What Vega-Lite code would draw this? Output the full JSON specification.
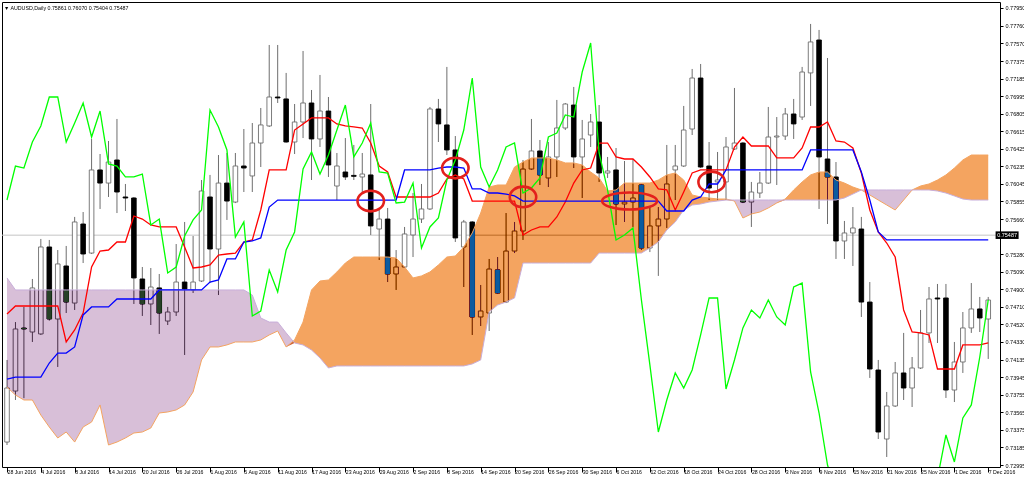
{
"$schema":"https://vega.github.io/schema/vega-lite/v6.json",
"width":998,"height":465,
"autosize":{"type":"none"},
"padding":{"left":2,"top":2,"right":24,"bottom":12},
"background":"#ffffff",
"title":{"text":"▼ AUDUSD,Daily  0.75861 0.76070 0.75404 0.75487","anchor":"start","frame":"group","offset":-9,"dx":2,"fontSize":5.3,"font":"Liberation Sans","fontWeight":"normal","color":"#000000"},
"config":{"view":{"stroke":"#000000","strokeWidth":1},"axis":{"labelFont":"Liberation Sans","labelFontSize":5.5,"labelColor":"#000000","tickColor":"#000000","grid":false,"domain":false,"title":null}},
"datasets":{
"last":[{"price":0.75487}],
"notes":[{"i":43,"v":0.75857},{"i":53,"v":0.76215},{"i":61,"v":0.75901},{"i":83.3,"v":0.76064}],
"wideNote":[{"i":73.6,"v":0.75857}],
"bars":[
{"i":0,"d":"2016-06-28","o":0.73244,"h":0.74134,"l":0.73212,"c":0.73830,"t":0.74633,"k":0.73927,"ch":0.75868,"A":0.73841,"B":0.75023},
{"i":1,"d":"2016-06-29","o":0.73797,"h":0.74545,"l":0.73700,"c":0.74470,"t":0.74719,"k":0.73949,"ch":0.76237,"A":0.73754,"B":0.74893},
{"i":2,"d":"2016-06-30","o":0.74480,"h":0.74709,"l":0.73720,"c":0.74470,"t":0.74719,"k":0.73949,"ch":0.76215,"A":0.73700,"B":0.74893},
{"i":3,"d":"2016-07-01","o":0.74437,"h":0.75012,"l":0.74329,"c":0.74915,"t":0.74719,"k":0.73949,"ch":0.76497,"A":0.73700,"B":0.74893},
{"i":4,"d":"2016-07-04","o":0.74416,"h":0.75446,"l":0.74405,"c":0.75359,"t":0.74719,"k":0.73949,"ch":0.76671,"A":0.73537,"B":0.74893},
{"i":5,"d":"2016-07-05","o":0.75359,"h":0.75435,"l":0.74560,"c":0.74578,"t":0.74719,"k":0.74101,"ch":0.76985,"A":0.73407,"B":0.74893},
{"i":6,"d":"2016-07-06","o":0.74578,"h":0.75326,"l":0.74058,"c":0.75175,"t":0.74719,"k":0.74209,"ch":0.76985,"A":0.73288,"B":0.74893},
{"i":7,"d":"2016-07-07","o":0.75153,"h":0.75370,"l":0.74643,"c":0.74762,"t":0.74329,"k":0.74209,"ch":0.76497,"A":0.73353,"B":0.74893},
{"i":8,"d":"2016-07-08","o":0.74751,"h":0.75685,"l":0.74676,"c":0.75630,"t":0.74459,"k":0.74275,"ch":0.76703,"A":0.73244,"B":0.74893},
{"i":9,"d":"2016-07-11","o":0.75608,"h":0.75738,"l":0.75185,"c":0.75283,"t":0.74643,"k":0.74622,"ch":0.76920,"A":0.73407,"B":0.74893},
{"i":10,"d":"2016-07-12","o":0.75293,"h":0.76530,"l":0.75283,"c":0.76194,"t":0.75142,"k":0.74709,"ch":0.76551,"A":0.73461,"B":0.74893},
{"i":11,"d":"2016-07-13","o":0.76194,"h":0.76367,"l":0.75771,"c":0.76052,"t":0.75315,"k":0.74709,"ch":0.76833,"A":0.73646,"B":0.74893},
{"i":12,"d":"2016-07-14","o":0.76052,"h":0.76508,"l":0.75901,"c":0.76280,"t":0.75326,"k":0.74709,"ch":0.76259,"A":0.73212,"B":0.74893},
{"i":13,"d":"2016-07-15","o":0.76302,"h":0.76747,"l":0.75727,"c":0.75955,"t":0.75413,"k":0.74795,"ch":0.76237,"A":0.73244,"B":0.74893},
{"i":14,"d":"2016-07-18","o":0.75901,"h":0.76042,"l":0.75749,"c":0.75890,"t":0.75413,"k":0.74795,"ch":0.76118,"A":0.73288,"B":0.74893},
{"i":15,"d":"2016-07-19","o":0.75890,"h":0.75900,"l":0.74741,"c":0.75023,"t":0.75695,"k":0.74795,"ch":0.76118,"A":0.73342,"B":0.74893},
{"i":16,"d":"2016-07-20","o":0.75012,"h":0.75142,"l":0.74611,"c":0.74741,"t":0.75662,"k":0.74795,"ch":0.76150,"A":0.73353,"B":0.74893},
{"i":17,"d":"2016-07-21","o":0.74741,"h":0.75131,"l":0.74513,"c":0.74925,"t":0.75598,"k":0.74795,"ch":0.75598,"A":0.73396,"B":0.74893},
{"i":18,"d":"2016-07-22","o":0.74915,"h":0.75066,"l":0.74416,"c":0.74643,"t":0.75576,"k":0.74893,"ch":0.75662,"A":0.73559,"B":0.74893},
{"i":19,"d":"2016-07-25","o":0.74556,"h":0.74709,"l":0.74513,"c":0.74654,"t":0.75576,"k":0.74893,"ch":0.75077,"A":0.73570,"B":0.74893},
{"i":20,"d":"2016-07-26","o":0.74654,"h":0.75391,"l":0.74611,"c":0.74979,"t":0.75576,"k":0.74893,"ch":0.75142,"A":0.73592,"B":0.74893},
{"i":21,"d":"2016-07-27","o":0.74979,"h":0.75630,"l":0.74188,"c":0.74904,"t":0.75359,"k":0.74893,"ch":0.75478,"A":0.73646,"B":0.74893},
{"i":22,"d":"2016-07-28","o":0.74893,"h":0.75478,"l":0.74860,"c":0.74979,"t":0.75131,"k":0.74893,"ch":0.75652,"A":0.73787,"B":0.74893},
{"i":23,"d":"2016-07-29","o":0.74990,"h":0.76085,"l":0.74979,"c":0.75966,"t":0.75142,"k":0.74893,"ch":0.75760,"A":0.74134,"B":0.74893},
{"i":24,"d":"2016-08-01","o":0.75901,"h":0.76140,"l":0.74968,"c":0.75337,"t":0.75164,"k":0.74979,"ch":0.76844,"A":0.74275,"B":0.74893},
{"i":25,"d":"2016-08-02","o":0.75337,"h":0.76356,"l":0.74838,"c":0.76052,"t":0.75272,"k":0.75001,"ch":0.76660,"A":0.74275,"B":0.74893},
{"i":26,"d":"2016-08-03","o":0.76052,"h":0.76378,"l":0.75652,"c":0.75857,"t":0.75283,"k":0.75229,"ch":0.76411,"A":0.74297,"B":0.74893},
{"i":27,"d":"2016-08-04","o":0.75846,"h":0.76378,"l":0.75835,"c":0.76237,"t":0.75293,"k":0.75229,"ch":0.75467,"A":0.74329,"B":0.74893},
{"i":28,"d":"2016-08-05","o":0.76237,"h":0.76638,"l":0.75955,"c":0.76215,"t":0.75413,"k":0.75413,"ch":0.75630,"A":0.74329,"B":0.74893},
{"i":29,"d":"2016-08-08","o":0.76129,"h":0.76703,"l":0.75955,"c":0.76486,"t":0.75435,"k":0.75424,"ch":0.74611,"A":0.74329,"B":0.74838},
{"i":30,"d":"2016-08-09","o":0.76486,"h":0.76866,"l":0.76226,"c":0.76682,"t":0.75760,"k":0.75457,"ch":0.74665,"A":0.74351,"B":0.74589},
{"i":31,"d":"2016-08-10","o":0.76671,"h":0.77549,"l":0.76660,"c":0.76985,"t":0.76194,"k":0.75792,"ch":0.75110,"A":0.74405,"B":0.74545},
{"i":32,"d":"2016-08-11","o":0.76985,"h":0.77549,"l":0.76920,"c":0.76975,"t":0.76194,"k":0.75868,"ch":0.74871,"A":0.74448,"B":0.74545},
{"i":33,"d":"2016-08-12","o":0.76964,"h":0.77246,"l":0.76490,"c":0.76497,"t":0.76194,"k":0.75868,"ch":0.75326,"A":0.74275,"B":0.74427},
{"i":34,"d":"2016-08-15","o":0.76497,"h":0.76909,"l":0.76367,"c":0.76714,"t":0.76627,"k":0.75868,"ch":0.75522,"A":0.74351,"B":0.74318},
{"i":35,"d":"2016-08-16","o":0.76714,"h":0.77484,"l":0.76540,"c":0.76920,"t":0.76693,"k":0.75868,"ch":0.76204,"A":0.74545,"B":0.74297},
{"i":36,"d":"2016-08-17","o":0.76920,"h":0.77061,"l":0.76085,"c":0.76530,"t":0.76758,"k":0.75868,"ch":0.76389,"A":0.74893,"B":0.74242},
{"i":37,"d":"2016-08-18","o":0.76530,"h":0.77224,"l":0.76443,"c":0.76833,"t":0.76758,"k":0.75868,"ch":0.76150,"A":0.74990,"B":0.74156},
{"i":38,"d":"2016-08-19","o":0.76833,"h":0.76985,"l":0.76118,"c":0.76248,"t":0.76758,"k":0.75868,"ch":0.76356,"A":0.75001,"B":0.74047},
{"i":39,"d":"2016-08-22","o":0.76020,"h":0.76378,"l":0.75868,"c":0.76237,"t":0.76693,"k":0.75868,"ch":0.76627,"A":0.75088,"B":0.74069},
{"i":40,"d":"2016-08-23","o":0.76172,"h":0.76540,"l":0.76085,"c":0.76118,"t":0.76671,"k":0.75868,"ch":0.76898,"A":0.75185,"B":0.74069},
{"i":41,"d":"2016-08-24","o":0.76135,"h":0.76465,"l":0.76085,"c":0.76125,"t":0.76660,"k":0.75868,"ch":0.76335,"A":0.75250,"B":0.74069},
{"i":42,"d":"2016-08-25","o":0.76118,"h":0.76378,"l":0.75944,"c":0.76150,"t":0.76649,"k":0.75868,"ch":0.76486,"A":0.75250,"B":0.74069},
{"i":43,"d":"2016-08-26","o":0.76140,"h":0.76909,"l":0.75489,"c":0.75587,"t":0.76486,"k":0.75868,"ch":0.76703,"A":0.75250,"B":0.74069},
{"i":44,"d":"2016-08-29","o":0.75554,"h":0.75760,"l":0.75218,"c":0.75662,"t":0.76237,"k":0.75868,"ch":0.76172,"A":0.75250,"B":0.74069},
{"i":45,"d":"2016-08-30","o":0.75662,"h":0.75782,"l":0.74979,"c":0.75066,"t":0.76172,"k":0.75868,"ch":0.76161,"A":0.75250,"B":0.74069},
{"i":46,"d":"2016-08-31","o":0.75066,"h":0.75326,"l":0.74893,"c":0.75142,"t":0.75901,"k":0.75868,"ch":0.75836,"A":0.75239,"B":0.74069},
{"i":47,"d":"2016-09-01","o":0.75142,"h":0.75576,"l":0.75131,"c":0.75500,"t":0.75901,"k":0.76194,"ch":0.75846,"A":0.75142,"B":0.74069},
{"i":48,"d":"2016-09-02","o":0.75489,"h":0.75944,"l":0.75250,"c":0.75662,"t":0.75901,"k":0.76194,"ch":0.76052,"A":0.75023,"B":0.74069},
{"i":49,"d":"2016-09-05","o":0.75662,"h":0.76042,"l":0.75619,"c":0.75771,"t":0.75901,"k":0.76194,"ch":0.75348,"A":0.75045,"B":0.74069},
{"i":50,"d":"2016-09-06","o":0.75771,"h":0.76877,"l":0.75760,"c":0.76855,"t":0.75901,"k":0.76194,"ch":0.75576,"A":0.75088,"B":0.74069},
{"i":51,"d":"2016-09-07","o":0.76855,"h":0.76964,"l":0.76497,"c":0.76693,"t":0.75944,"k":0.76215,"ch":0.75673,"A":0.75164,"B":0.74069},
{"i":52,"d":"2016-09-08","o":0.76682,"h":0.77311,"l":0.76356,"c":0.76411,"t":0.76096,"k":0.76226,"ch":0.76085,"A":0.75250,"B":0.74069},
{"i":53,"d":"2016-09-09","o":0.76411,"h":0.76562,"l":0.75413,"c":0.75457,"t":0.76140,"k":0.76226,"ch":0.76302,"A":0.75261,"B":0.74069},
{"i":54,"d":"2016-09-12","o":0.75359,"h":0.75652,"l":0.74925,"c":0.75630,"t":0.76096,"k":0.76215,"ch":0.76627,"A":0.75359,"B":0.74069},
{"i":55,"d":"2016-09-13","o":0.75630,"h":0.75640,"l":0.74405,"c":0.74600,"t":0.75857,"k":0.75988,"ch":0.77191,"A":0.75511,"B":0.74091},
{"i":56,"d":"2016-09-14","o":0.74600,"h":0.74947,"l":0.74502,"c":0.74665,"t":0.75857,"k":0.75988,"ch":0.76226,"A":0.75727,"B":0.74134},
{"i":57,"d":"2016-09-15","o":0.74643,"h":0.75229,"l":0.74448,"c":0.75120,"t":0.75857,"k":0.75944,"ch":0.76009,"A":0.76009,"B":0.74654},
{"i":58,"d":"2016-09-16","o":0.75110,"h":0.75250,"l":0.74850,"c":0.74860,"t":0.75857,"k":0.75944,"ch":0.76194,"A":0.76031,"B":0.74730},
{"i":59,"d":"2016-09-19","o":0.74762,"h":0.75727,"l":0.74751,"c":0.75315,"t":0.75857,"k":0.75933,"ch":0.76443,"A":0.76031,"B":0.74762},
{"i":60,"d":"2016-09-20","o":0.75315,"h":0.75630,"l":0.75293,"c":0.75532,"t":0.75857,"k":0.75912,"ch":0.76486,"A":0.76226,"B":0.74806},
{"i":61,"d":"2016-09-21","o":0.75532,"h":0.76302,"l":0.75435,"c":0.76204,"t":0.75489,"k":0.75857,"ch":0.75944,"A":0.76280,"B":0.75185},
{"i":62,"d":"2016-09-22","o":0.76204,"h":0.76747,"l":0.76194,"c":0.76400,"t":0.75543,"k":0.75857,"ch":0.75998,"A":0.76324,"B":0.75185},
{"i":63,"d":"2016-09-23","o":0.76400,"h":0.76519,"l":0.76031,"c":0.76140,"t":0.75576,"k":0.75857,"ch":0.76107,"A":0.76324,"B":0.75185},
{"i":64,"d":"2016-09-26","o":0.76107,"h":0.76497,"l":0.76009,"c":0.76335,"t":0.75576,"k":0.75857,"ch":0.76551,"A":0.76324,"B":0.75185},
{"i":65,"d":"2016-09-27","o":0.76335,"h":0.76953,"l":0.76118,"c":0.76649,"t":0.75684,"k":0.75857,"ch":0.76595,"A":0.76302,"B":0.75185},
{"i":66,"d":"2016-09-28","o":0.76649,"h":0.76920,"l":0.76627,"c":0.76909,"t":0.75846,"k":0.75857,"ch":0.76790,"A":0.76270,"B":0.75185},
{"i":67,"d":"2016-09-29","o":0.76898,"h":0.77094,"l":0.76215,"c":0.76335,"t":0.76052,"k":0.75857,"ch":0.76768,"A":0.76270,"B":0.75185},
{"i":68,"d":"2016-09-30","o":0.76335,"h":0.76736,"l":0.75890,"c":0.76530,"t":0.76194,"k":0.75857,"ch":0.77256,"A":0.76248,"B":0.75185},
{"i":69,"d":"2016-10-03","o":0.76573,"h":0.76801,"l":0.76443,"c":0.76714,"t":0.76215,"k":0.75857,"ch":0.77571,"A":0.76172,"B":0.75185},
{"i":70,"d":"2016-10-04","o":0.76714,"h":0.76898,"l":0.76064,"c":0.76161,"t":0.76486,"k":0.75857,"ch":0.76378,"A":0.76107,"B":0.75293},
{"i":71,"d":"2016-10-05","o":0.76161,"h":0.76335,"l":0.76107,"c":0.76183,"t":0.76486,"k":0.75857,"ch":0.75977,"A":0.75966,"B":0.75293},
{"i":72,"d":"2016-10-06","o":0.76194,"h":0.76432,"l":0.75597,"c":0.75825,"t":0.76335,"k":0.75857,"ch":0.75435,"A":0.75977,"B":0.75293},
{"i":73,"d":"2016-10-07","o":0.75825,"h":0.76291,"l":0.75630,"c":0.75846,"t":0.76313,"k":0.75857,"ch":0.75489,"A":0.76052,"B":0.75293},
{"i":74,"d":"2016-10-10","o":0.75846,"h":0.76313,"l":0.75576,"c":0.75890,"t":0.76313,"k":0.75857,"ch":0.75565,"A":0.76052,"B":0.75293},
{"i":75,"d":"2016-10-11","o":0.76031,"h":0.76042,"l":0.75326,"c":0.75348,"t":0.76226,"k":0.75857,"ch":0.74784,"A":0.76052,"B":0.75293},
{"i":76,"d":"2016-10-12","o":0.75348,"h":0.75792,"l":0.75304,"c":0.75587,"t":0.76118,"k":0.75857,"ch":0.74080,"A":0.76052,"B":0.75348},
{"i":77,"d":"2016-10-13","o":0.75587,"h":0.75792,"l":0.75045,"c":0.75662,"t":0.75988,"k":0.75857,"ch":0.73353,"A":0.76085,"B":0.75413},
{"i":78,"d":"2016-10-14","o":0.75662,"h":0.76465,"l":0.75565,"c":0.76042,"t":0.75977,"k":0.75749,"ch":0.73700,"A":0.76140,"B":0.75543},
{"i":79,"d":"2016-10-17","o":0.76194,"h":0.76465,"l":0.75868,"c":0.76237,"t":0.75760,"k":0.75749,"ch":0.73993,"A":0.76161,"B":0.75630},
{"i":80,"d":"2016-10-18","o":0.76237,"h":0.76888,"l":0.76226,"c":0.76627,"t":0.75955,"k":0.75749,"ch":0.73830,"A":0.76085,"B":0.75760},
{"i":81,"d":"2016-10-19","o":0.76638,"h":0.77289,"l":0.76573,"c":0.77191,"t":0.76161,"k":0.75868,"ch":0.74025,"A":0.75923,"B":0.75814},
{"i":82,"d":"2016-10-20","o":0.77191,"h":0.77343,"l":0.76215,"c":0.76226,"t":0.76194,"k":0.75901,"ch":0.74405,"A":0.75901,"B":0.75825},
{"i":83,"d":"2016-10-21","o":0.76237,"h":0.76497,"l":0.75868,"c":0.75998,"t":0.76194,"k":0.76042,"ch":0.74806,"A":0.75890,"B":0.75846},
{"i":84,"d":"2016-10-24","o":0.76064,"h":0.76389,"l":0.75868,"c":0.76085,"t":0.76194,"k":0.76042,"ch":0.74806,"A":0.75879,"B":0.75857},
{"i":85,"d":"2016-10-25","o":0.76064,"h":0.76551,"l":0.75868,"c":0.76443,"t":0.76194,"k":0.76194,"ch":0.73819,"A":0.75879,"B":0.75868},
{"i":86,"d":"2016-10-26","o":0.76421,"h":0.77083,"l":0.76411,"c":0.76486,"t":0.76443,"k":0.76194,"ch":0.74134,"A":0.75857,"B":0.75868},
{"i":87,"d":"2016-10-27","o":0.76486,"h":0.76497,"l":0.75835,"c":0.75846,"t":0.76551,"k":0.76194,"ch":0.74481,"A":0.75673,"B":0.75868},
{"i":88,"d":"2016-10-28","o":0.75846,"h":0.76064,"l":0.75576,"c":0.75955,"t":0.76454,"k":0.76194,"ch":0.74676,"A":0.75717,"B":0.75868},
{"i":89,"d":"2016-10-31","o":0.75944,"h":0.76172,"l":0.75890,"c":0.76052,"t":0.76454,"k":0.76194,"ch":0.74589,"A":0.75738,"B":0.75868},
{"i":90,"d":"2016-11-01","o":0.76052,"h":0.76877,"l":0.76042,"c":0.76551,"t":0.76454,"k":0.76194,"ch":0.74784,"A":0.75782,"B":0.75868},
{"i":91,"d":"2016-11-02","o":0.76551,"h":0.76768,"l":0.76031,"c":0.76562,"t":0.76324,"k":0.76194,"ch":0.74600,"A":0.75836,"B":0.75868},
{"i":92,"d":"2016-11-03","o":0.76562,"h":0.76866,"l":0.76519,"c":0.76801,"t":0.76324,"k":0.76194,"ch":0.74513,"A":0.75879,"B":0.75868},
{"i":93,"d":"2016-11-04","o":0.76801,"h":0.76964,"l":0.76530,"c":0.76693,"t":0.76324,"k":0.76194,"ch":0.74925,"A":0.75977,"B":0.75868},
{"i":94,"d":"2016-11-07","o":0.76768,"h":0.77311,"l":0.76736,"c":0.77256,"t":0.76432,"k":0.76194,"ch":0.74968,"A":0.76064,"B":0.75868},
{"i":95,"d":"2016-11-08","o":0.77246,"h":0.77777,"l":0.76888,"c":0.77582,"t":0.76660,"k":0.76411,"ch":0.74004,"A":0.76140,"B":0.75868},
{"i":96,"d":"2016-11-09","o":0.77603,"h":0.77712,"l":0.75771,"c":0.76335,"t":0.76660,"k":0.76411,"ch":0.73559,"A":0.76172,"B":0.75868},
{"i":97,"d":"2016-11-10","o":0.76313,"h":0.77408,"l":0.75608,"c":0.76118,"t":0.76714,"k":0.76411,"ch":0.72995,"A":0.76172,"B":0.75868},
{"i":98,"d":"2016-11-11","o":0.76118,"h":0.76280,"l":0.75229,"c":0.75424,"t":0.76508,"k":0.76411,"ch":0.7270,"A":0.76085,"B":0.75868},
{"i":99,"d":"2016-11-14","o":0.75424,"h":0.75641,"l":0.75229,"c":0.75511,"t":0.76497,"k":0.76411,"ch":0.7270,"A":0.76052,"B":0.75890},
{"i":100,"d":"2016-11-15","o":0.75511,"h":0.75792,"l":0.75153,"c":0.75565,"t":0.76432,"k":0.76411,"ch":0.7270,"A":0.76009,"B":0.75933},
{"i":101,"d":"2016-11-16","o":0.75554,"h":0.75685,"l":0.74600,"c":0.74762,"t":0.76161,"k":0.76172,"ch":0.7270,"A":0.75977,"B":0.75977},
{"i":102,"d":"2016-11-17","o":0.74762,"h":0.74979,"l":0.73939,"c":0.74036,"t":0.75760,"k":0.75868,"ch":0.7270,"A":0.75923,"B":0.75977},
{"i":103,"d":"2016-11-18","o":0.74025,"h":0.74134,"l":0.73277,"c":0.73353,"t":0.75522,"k":0.75522,"ch":0.7270,"A":0.75868,"B":0.75977},
{"i":104,"d":"2016-11-21","o":0.73277,"h":0.73787,"l":0.73082,"c":0.73635,"t":0.75402,"k":0.75435,"ch":0.7270,"A":0.75814,"B":0.75977},
{"i":105,"d":"2016-11-22","o":0.73635,"h":0.74112,"l":0.73624,"c":0.73993,"t":0.75250,"k":0.75435,"ch":0.7270,"A":0.75760,"B":0.75977},
{"i":106,"d":"2016-11-23","o":0.73993,"h":0.74427,"l":0.73700,"c":0.73830,"t":0.74676,"k":0.75435,"ch":0.7270,"A":0.75868,"B":0.75977},
{"i":107,"d":"2016-11-24","o":0.73830,"h":0.74166,"l":0.73624,"c":0.74047,"t":0.74437,"k":0.75435,"ch":0.7270,"A":0.75977,"B":0.75977},
{"i":108,"d":"2016-11-25","o":0.74047,"h":0.74676,"l":0.74036,"c":0.74427,"t":0.74427,"k":0.75435,"ch":0.7270,"A":0.76020,"B":0.75977},
{"i":109,"d":"2016-11-28","o":0.74427,"h":0.74925,"l":0.74318,"c":0.74795,"t":0.74405,"k":0.75435,"ch":0.7270,"A":0.76042,"B":0.75977},
{"i":110,"d":"2016-11-29","o":0.74806,"h":0.74958,"l":0.74318,"c":0.74795,"t":0.74036,"k":0.75435,"ch":0.7285,"A":0.76085,"B":0.75966},
{"i":111,"d":"2016-11-30","o":0.74806,"h":0.74958,"l":0.73722,"c":0.73808,"t":0.74036,"k":0.75435,"ch":0.73321,"A":0.76140,"B":0.75944},
{"i":112,"d":"2016-12-01","o":0.73808,"h":0.74329,"l":0.73678,"c":0.74112,"t":0.74036,"k":0.75435,"ch":0.73028,"A":0.76215,"B":0.75912},
{"i":113,"d":"2016-12-02","o":0.74112,"h":0.74654,"l":0.73993,"c":0.74481,"t":0.74297,"k":0.75435,"ch":0.73505,"A":0.76302,"B":0.75879},
{"i":114,"d":"2016-12-05","o":0.74481,"h":0.74968,"l":0.74427,"c":0.74687,"t":0.74297,"k":0.75435,"ch":0.73646,"A":0.76356,"B":0.75868},
{"i":115,"d":"2016-12-06","o":0.74687,"h":0.74817,"l":0.74437,"c":0.74589,"t":0.74297,"k":0.75435,"ch":0.74166,"A":0.76356,"B":0.75868},
{"i":116,"d":"2016-12-07","o":0.74578,"h":0.74817,"l":0.74145,"c":0.74784,"t":0.74318,"k":0.75435,"ch":0.74784,"A":0.76356,"B":0.75868}
]},
"layer":[
{"data":{"name":"last"},"mark":{"type":"rule","color":"#C4C4C4","strokeWidth":1},
 "encoding":{"y":{"field":"price","type":"quantitative"}}},
{"data":{"name":"bars"},"mark":{"type":"rule","color":"#6E6E6E","strokeWidth":1},
 "encoding":{
  "x":{"field":"i","type":"quantitative","scale":{"domain":[0,116.8],"nice":false,"zero":false},
   "axis":{"values":[0,4,8,12,16,20,24,28,32,36,40,44,48,52,56,60,64,68,72,76,80,84,88,92,96,100,104,108,112,116],"tickCount":500,
    "labelExpr":"['28 Jun 2016','4 Jul 2016','8 Jul 2016','14 Jul 2016','20 Jul 2016','26 Jul 2016','1 Aug 2016','5 Aug 2016','11 Aug 2016','17 Aug 2016','23 Aug 2016','29 Aug 2016','2 Sep 2016','8 Sep 2016','14 Sep 2016','20 Sep 2016','26 Sep 2016','30 Sep 2016','6 Oct 2016','12 Oct 2016','18 Oct 2016','24 Oct 2016','28 Oct 2016','3 Nov 2016','9 Nov 2016','15 Nov 2016','21 Nov 2016','25 Nov 2016','1 Dec 2016','7 Dec 2016'][round(datum.value/4)]",
    "tickSize":5,"labelPadding":-3,"labelAlign":"left","labelBaseline":"top","labelDx":1.5,"labelFontSize":5.2,"labelOverlap":false,"labelFlush":false,"labelBound":false}},
  "y":{"field":"l","type":"quantitative","scale":{"domain":[0.729735,0.78015],"nice":false,"zero":false},
   "axis":{"orient":"right","values":[0.7795,0.7776,0.7757,0.77375,0.77185,0.76995,0.76805,0.76615,0.76425,0.76235,0.76045,0.75855,0.7566,0.7528,0.7509,0.749,0.7471,0.7452,0.7433,0.74135,0.73945,0.73755,0.73565,0.73375,0.73185,0.72995],"tickCount":500,
    "format":".5f","tickSize":3,"labelPadding":2,"labelOverlap":false,"labelFlush":false,"labelBound":false}},
  "y2":{"field":"h"}}},
{"data":{"name":"bars"},"mark":{"type":"bar","width":4.6,"strokeWidth":0.9},
 "encoding":{
  "x":{"field":"i","type":"quantitative"},
  "y":{"field":"o","type":"quantitative"},"y2":{"field":"c"},
  "fill":{"condition":{"test":"datum.c < datum.o","value":"#000000"},"value":"#FFFFFF"},
  "stroke":{"condition":{"test":"datum.c < datum.o","value":"#000000"},"value":"#6E6E6E"}}},
{"data":{"name":"bars"},
 "transform":[{"fold":["A","B"],"as":["span","val"]},{"joinaggregate":[{"op":"min","field":"val","as":"lo"}],"groupby":["i"]},{"filter":"datum.span == 'A'"}],
 "mark":{"type":"area","color":"#0B5B9F","blend":"difference"},
 "encoding":{"x":{"field":"i","type":"quantitative"},"y":{"field":"val","type":"quantitative"},"y2":{"field":"lo"}}},
{"data":{"name":"bars"},
 "transform":[{"fold":["A","B"],"as":["span","val"]},{"joinaggregate":[{"op":"min","field":"val","as":"lo"}],"groupby":["i"]},{"filter":"datum.span == 'B'"}],
 "mark":{"type":"area","color":"#274027","blend":"difference"},
 "encoding":{"x":{"field":"i","type":"quantitative"},"y":{"field":"val","type":"quantitative"},"y2":{"field":"lo"}}},
{"data":{"name":"bars"},"mark":{"type":"line","color":"#F4A460","strokeWidth":1},
 "encoding":{"x":{"field":"i","type":"quantitative"},"y":{"field":"A","type":"quantitative"}}},
{"data":{"name":"bars"},"mark":{"type":"line","color":"#C8AEDA","strokeWidth":1},
 "encoding":{"x":{"field":"i","type":"quantitative"},"y":{"field":"B","type":"quantitative"}}},
{"data":{"name":"bars"},"mark":{"type":"line","color":"#FF0000","strokeWidth":1.3},
 "encoding":{"x":{"field":"i","type":"quantitative"},"y":{"field":"t","type":"quantitative"}}},
{"data":{"name":"bars"},"mark":{"type":"line","color":"#0000FF","strokeWidth":1.3},
 "encoding":{"x":{"field":"i","type":"quantitative"},"y":{"field":"k","type":"quantitative"}}},
{"data":{"name":"bars"},"mark":{"type":"line","color":"#00FF00","strokeWidth":1.3,"clip":true},
 "encoding":{"x":{"field":"i","type":"quantitative"},"y":{"field":"ch","type":"quantitative"}}},
{"data":{"name":"notes"},"mark":{"type":"point","filled":false,"stroke":"#E3201C","strokeWidth":2.6,"opacity":1,"size":700,
  "shape":"M-1,0C-1,-0.43,-0.55,-0.78,0,-0.78C0.55,-0.78,1,-0.43,1,0C1,0.43,0.55,0.78,0,0.78C-0.55,0.78,-1,0.43,-1,0Z"},
 "encoding":{"x":{"field":"i","type":"quantitative"},"y":{"field":"v","type":"quantitative"}}},
{"data":{"name":"wideNote"},"mark":{"type":"point","filled":false,"stroke":"#E3201C","strokeWidth":2.6,"opacity":1,"size":3025,
  "shape":"M-1,0C-1,-0.171,-0.552,-0.31,0,-0.31C0.552,-0.31,1,-0.171,1,0C1,0.171,0.552,0.31,0,0.31C-0.552,0.31,-1,0.171,-1,0Z"},
 "encoding":{"x":{"field":"i","type":"quantitative"},"y":{"field":"v","type":"quantitative"}}},
{"data":{"name":"last"},"mark":{"type":"point","filled":true,"fill":"#000000","strokeWidth":0,"opacity":1,"size":529,"shape":"M-1,-0.33H1V0.33H-1Z"},
 "encoding":{"x":{"datum":118.23,"type":"quantitative"},"y":{"field":"price","type":"quantitative"}}},
{"data":{"name":"last"},"mark":{"type":"text","color":"#FFFFFF","fontSize":5.5,"font":"Liberation Sans","align":"center","baseline":"middle"},
 "encoding":{"x":{"datum":118.23,"type":"quantitative"},"y":{"field":"price","type":"quantitative"},"text":{"field":"price","type":"quantitative","format":".5f"}}}
]
}
